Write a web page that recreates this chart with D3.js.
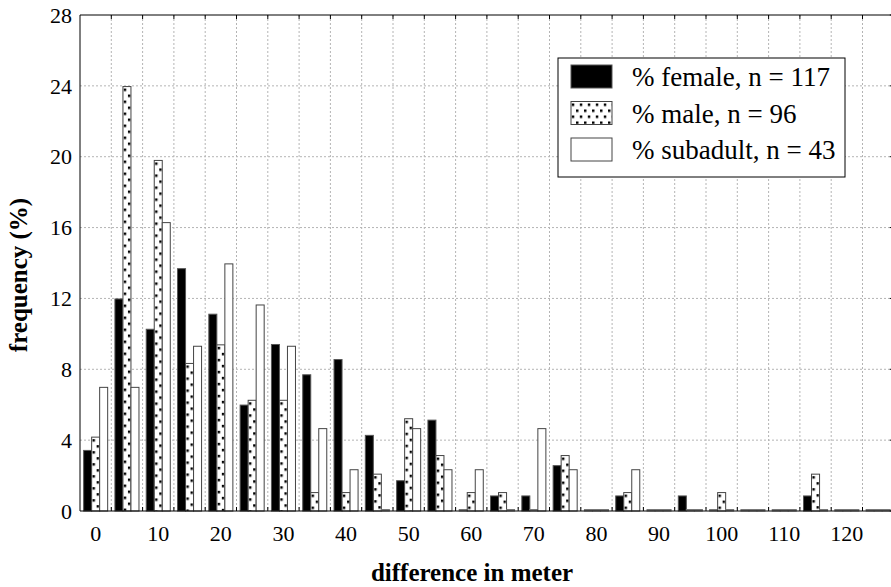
<!DOCTYPE html>
<html>
  <head>
    <meta charset="utf-8" />
    <title>Difference in meter – frequency</title>
    <script src="https://d3js.org/d3.v7.min.js"></script>
    <style>
      body { margin: 0; background: #fff; }
      .grid line { stroke: #b4b4b4; stroke-width: 1; stroke-dasharray: 2,2; }
    </style>
  </head>
  <body>
    <svg width="891" height="587"></svg>
    <script>
      // bin start (meter)
      const bins = [0, 5, 10, 15, 20, 25, 30, 35, 40, 45, 50, 55, 60, 65, 70, 75, 80, 85, 90, 95, 100, 105, 110, 115, 120, 125];
      // percentages per group
      const female   = [3.42, 11.97, 10.26, 13.68, 11.11, 5.98, 9.40, 7.69, 8.55, 4.27, 1.71, 5.13, 0, 0.85, 0.85, 2.56, 0, 0.85, 0, 0.85, 0, 0, 0, 0.85, 0, 0];
      const male     = [4.17, 23.96, 19.79, 8.33, 9.38, 6.25, 6.25, 1.04, 1.04, 2.08, 5.21, 3.13, 1.04, 1.04, 0, 3.13, 0, 1.04, 0, 0, 1.04, 0, 0, 2.08, 0, 0];
      const subadult = [6.98, 6.98, 16.28, 9.30, 13.95, 11.63, 9.30, 4.65, 2.33, 0, 4.65, 2.33, 2.33, 0, 4.65, 2.33, 0, 2.33, 0, 0, 0, 0, 0, 0, 0, 0];
      const seriesNames = ["% female, n = 117", "% male, n = 96", "% subadult, n = 43"];
      const xTicks = [0, 10, 20, 30, 40, 50, 60, 70, 80, 90, 100, 110, 120];
      const yTicks = [0, 4, 8, 12, 16, 20, 24, 28];

      const serif = "'Liberation Serif'";
      const svg = d3.select("svg");
      const plotLeft = 80, plotTop = 15, plotBottom = 511;

      const x = d3.scaleLinear().domain([-2.5, 127.5]).range([plotLeft, plotLeft + 130 * 6.26]);
      const y = d3.scaleLinear().domain([0, 28]).range([plotBottom, plotTop]);
      const plotRight = x(127.5);

      // dot pattern for male bars
      const defs = svg.append("defs");
      const pat = defs.append("pattern")
                      .attr("id", "dots")
                      .attr("patternUnits", "userSpaceOnUse")
                      .attr("width", 8)
                      .attr("height", 12);
      pat.append("rect").attr("width", 8).attr("height", 12).attr("fill", "#fff");
      pat.append("rect").attr("x", 0.8).attr("y", 2).attr("width", 2.5).attr("height", 2.5).attr("fill", "#000");
      pat.append("rect").attr("x", 5).attr("y", 8).attr("width", 2.5).attr("height", 2.5).attr("fill", "#000");

      // grid
      const boundaries = d3.range(2.5, 125, 5);
      const grid = svg.append("g").attr("class", "grid");
      grid.selectAll(".v").data(boundaries).enter().append("line")
          .attr("x1", d => x(d)).attr("x2", d => x(d))
          .attr("y1", plotTop).attr("y2", plotBottom);
      grid.selectAll(".h").data(yTicks.slice(1, -1)).enter().append("line")
          .attr("x1", plotLeft).attr("x2", plotRight)
          .attr("y1", d => y(d)).attr("y2", d => y(d));

      // bars
      const series = [
        { values: female,   fill: "#000",       stroke: "#555" },
        { values: male,     fill: "url(#dots)", stroke: "#444" },
        { values: subadult, fill: "#fff",       stroke: "#444" }
      ];
      const barW = x(1.28) - x(0);

      series.forEach((s, si) => {
        const g = svg.append("g");
        const bars = g.selectAll("g").data(bins).enter().append("g")
                      .attr("transform", (d, i) => "translate(" + (x(d) + (si - 1.5) * barW) + "," + Math.min(y(s.values[i]), y(0) - 1.5) + ")");
        // empty bins still show as a flat outline on the baseline
        bars.append("rect")
            .attr("width", barW)
            .attr("height", (d, i) => Math.max(y(0) - y(s.values[i]), 1.5))
            .attr("fill", (d, i) => s.values[i] > 0 ? s.fill : "#888")
            .attr("stroke", (d, i) => s.values[i] > 0 ? s.stroke : "#777")
            .attr("stroke-width", 1);
      });

      // frame
      svg.append("line").attr("x1", plotLeft).attr("x2", plotLeft).attr("y1", plotTop).attr("y2", plotBottom).attr("stroke", "#000");
      svg.append("line").attr("x1", plotLeft).attr("x2", plotRight).attr("y1", plotTop).attr("y2", plotTop).attr("stroke", "#000");
      svg.append("line").attr("x1", plotLeft).attr("x2", plotRight).attr("y1", plotBottom).attr("y2", plotBottom).attr("stroke", "#000");
      svg.append("line").attr("x1", plotRight).attr("x2", plotRight).attr("y1", plotTop).attr("y2", plotBottom).attr("stroke", "#000");

      // small inward ticks
      svg.append("g").selectAll("line").data(boundaries).enter().append("line")
         .attr("x1", d => x(d)).attr("x2", d => x(d))
         .attr("y1", plotTop).attr("y2", plotTop + 4).attr("stroke", "#000");
      svg.append("g").selectAll("line").data(boundaries).enter().append("line")
         .attr("x1", d => x(d)).attr("x2", d => x(d))
         .attr("y1", plotBottom).attr("y2", plotBottom - 4).attr("stroke", "#000");
      svg.append("g").selectAll("line").data(yTicks).enter().append("line")
         .attr("x1", plotRight - 4).attr("x2", plotRight)
         .attr("y1", d => y(d)).attr("y2", d => y(d)).attr("stroke", "#000");

      // tick labels
      svg.append("g").selectAll("text").data(yTicks).enter().append("text")
         .style("font-family", serif).style("font-size", "22px")
         .attr("x", plotLeft - 8)
         .attr("y", d => y(d))
         .attr("dy", "0.35em")
         .attr("text-anchor", "end")
         .text(d => d);
      svg.append("g").selectAll("text").data(xTicks).enter().append("text")
         .style("font-family", serif).style("font-size", "22px")
         .attr("x", d => x(d))
         .attr("y", 541)
         .attr("text-anchor", "middle")
         .text(d => d);

      // axis titles
      svg.append("text")
         .style("font-family", serif).style("font-size", "25px").style("font-weight", "bold")
         .attr("x", 472)
         .attr("y", 581)
         .attr("text-anchor", "middle")
         .text("difference in meter");
      svg.append("text")
         .style("font-family", serif).style("font-size", "25px").style("font-weight", "bold")
         .attr("transform", "translate(27,275) rotate(-90)")
         .attr("text-anchor", "middle")
         .text("frequency (%)");

      // legend
      const legend = svg.append("g").attr("class", "legend");
      legend.append("rect")
            .attr("x", 558).attr("y", 58)
            .attr("width", 287).attr("height", 119)
            .attr("fill", "#fff").attr("stroke", "#000");
      seriesNames.forEach((name, i) => {
        const row = legend.append("g").attr("transform", "translate(571," + (65 + i * 36.5) + ")");
        row.append("rect")
           .attr("width", 41).attr("height", 23)
           .attr("fill", series[i].fill)
           .attr("stroke", series[i].stroke);
        row.append("text")
           .style("font-family", serif).style("font-size", "27px")
           .attr("x", 61).attr("y", 21)
           .text(name);
      });
    </script>
  </body>
</html>
